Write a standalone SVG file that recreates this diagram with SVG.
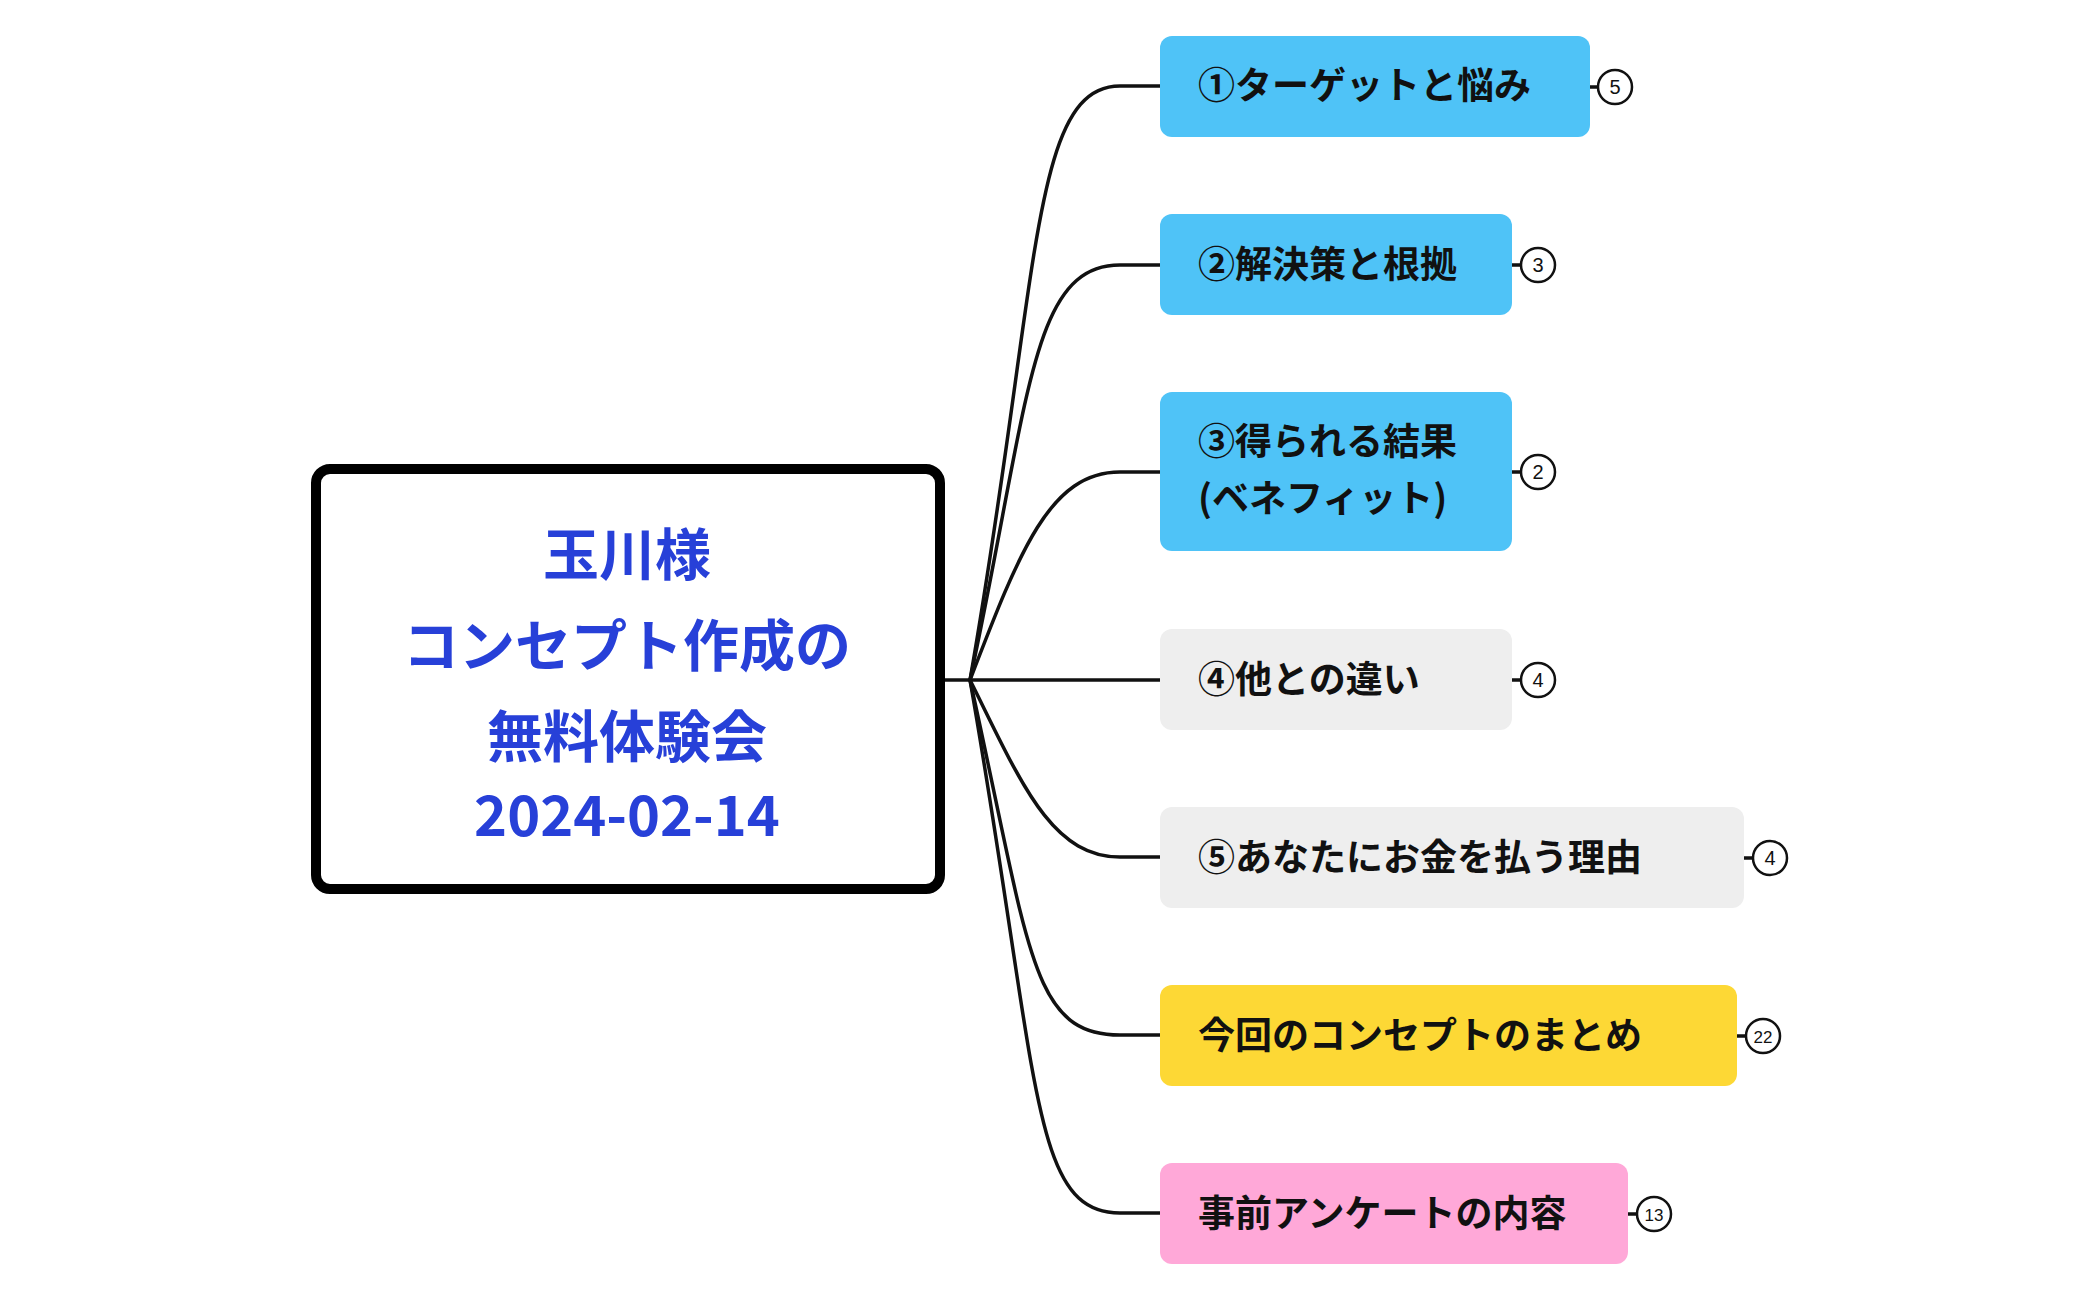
<svg xmlns="http://www.w3.org/2000/svg" width="2098" height="1300" viewBox="0 0 2098 1300">
<style>
.t{font-family:"Noto Sans CJK JP","Liberation Sans",sans-serif;font-weight:700;font-size:37px;fill:#111}
.c{font-family:"Noto Sans CJK JP","Liberation Sans",sans-serif;font-weight:700;font-size:56px;fill:#2740d8;text-anchor:middle}
.b{fill:#fff;stroke:#111;stroke-width:2.5}
.bt{font-family:"Liberation Sans",sans-serif;font-size:20px;fill:#111;text-anchor:middle}
.l{fill:none;stroke:#111;stroke-width:3.5}
</style>
<rect width="2098" height="1300" fill="#fff"/>
<g id="connectors" class="l">
<path d="M941 680 L970 680"/>
<path d="M970 680 C1040 280 1030 86 1120 86 L1160 86"/>
<path d="M970 680 C1030 400 1030 265 1120 265 L1160 265"/>
<path d="M970 680 C1020 550 1050 472 1120 472 L1160 472"/>
<path d="M970 680 L1160 680"/>
<path d="M970 680 C1020 780 1050 857 1120 857 L1160 857"/>
<path d="M970 680 C1030 950 1030 1035 1120 1035 L1160 1035"/>
<path d="M970 680 C1040 1080 1030 1213 1120 1213 L1160 1213"/>
<path d="M1590 87 L1598 87 M1512 265 L1521 265 M1512 472 L1521 472 M1512 680 L1521 680 M1744 858 L1753 858 M1737 1036 L1746 1036 M1628 1214 L1637 1214"/>
</g>
<g id="center">
<rect x="316" y="469" width="624" height="420" rx="14" fill="#fff" stroke="#000" stroke-width="10"/>
<text class="c" x="627" y="575">玉川様</text>
<text class="c" x="627" y="666">コンセプト作成の</text>
<text class="c" x="627" y="757">無料体験会</text>
<text class="c" x="627" y="836">2024-02-14</text>
</g>
<g id="n1"><rect x="1160" y="36" width="430" height="101" rx="12" fill="#4fc3f7"/><text class="t" x="1198" y="99">①ターゲットと悩み</text><circle class="b" cx="1615" cy="87" r="17"/><text class="bt" x="1615" y="94">5</text></g>
<g id="n2"><rect x="1160" y="214" width="352" height="101" rx="12" fill="#4fc3f7"/><text class="t" x="1198" y="278">②解決策と根拠</text><circle class="b" cx="1538" cy="265" r="17"/><text class="bt" x="1538" y="272">3</text></g>
<g id="n3"><rect x="1160" y="392" width="352" height="159" rx="12" fill="#4fc3f7"/><text class="t" x="1198" y="455">③得られる結果</text><text class="t" x="1198" y="512">(ベネフィット)</text><circle class="b" cx="1538" cy="472" r="17"/><text class="bt" x="1538" y="479">2</text></g>
<g id="n4"><rect x="1160" y="629" width="352" height="101" rx="12" fill="#eeeeee"/><text class="t" x="1198" y="693">④他との違い</text><circle class="b" cx="1538" cy="680" r="17"/><text class="bt" x="1538" y="687">4</text></g>
<g id="n5"><rect x="1160" y="807" width="584" height="101" rx="12" fill="#eeeeee"/><text class="t" x="1198" y="871">⑤あなたにお金を払う理由</text><circle class="b" cx="1770" cy="858" r="17"/><text class="bt" x="1770" y="865">4</text></g>
<g id="n6"><rect x="1160" y="985" width="577" height="101" rx="12" fill="#fdd835"/><text class="t" x="1198" y="1049">今回のコンセプトのまとめ</text><circle class="b" cx="1763" cy="1036" r="17"/><text class="bt" x="1763" y="1043" style="font-size:17px">22</text></g>
<g id="n7"><rect x="1160" y="1163" width="468" height="101" rx="12" fill="#ffa8d8"/><text class="t" x="1198" y="1227">事前アンケートの内容</text><circle class="b" cx="1654" cy="1214" r="17"/><text class="bt" x="1654" y="1221" style="font-size:17px">13</text></g>
</svg>
